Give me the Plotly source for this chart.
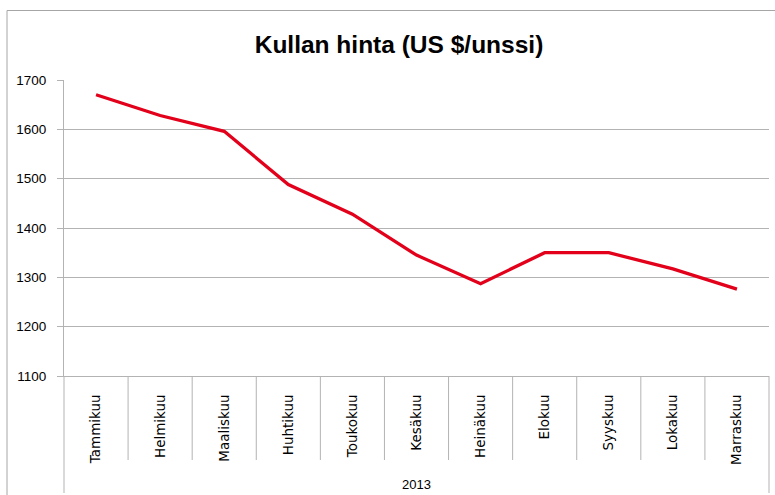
import plotly.graph_objects as go

months = ["Tammikuu", "Helmikuu", "Maaliskuu", "Huhtikuu", "Toukokuu", "Kesäkuu",
          "Heinäkuu", "Elokuu", "Syyskuu", "Lokakuu", "Marraskuu"]
prices = [1670, 1628, 1596, 1488, 1428, 1345, 1287, 1350, 1350, 1317, 1276]
year_label = "2013"
title_text = "Kullan hinta (US $/unssi)"

W, H = 775, 495
L, R, T, B = 64, 6, 80, 119
pw, ph = W - L - R, H - T - B

def px_x(px):
    return (px - L) / pw

def px_y(py):
    return (H - B - py) / ph

grid = "#b3b3b3"

fig = go.Figure()
fig.add_trace(go.Scatter(
    x=months, y=prices, mode="lines",
    line=dict(color="#E2001A", width=3.3),
    hoverinfo="x+y", showlegend=False,
))

shapes = []
# category separators below the axis
for i in range(len(months) - 1):
    shapes.append(dict(type="line", xref="x", yref="paper",
                       x0=i + 0.5, x1=i + 0.5, y0=0, y1=px_y(460),
                       line=dict(color=grid, width=1)))
# outer separators extending to the bottom
for xp in (0, 1):
    shapes.append(dict(type="line", xref="paper", yref="paper",
                       x0=xp, x1=xp, y0=0, y1=px_y(493),
                       line=dict(color=grid, width=1)))
# chart area border (left and top)
shapes.append(dict(type="line", xref="paper", yref="paper",
                   x0=px_x(7), x1=px_x(7), y0=px_y(10.5), y1=px_y(500),
                   line=dict(color="#a6a6a6", width=1)))
shapes.append(dict(type="line", xref="paper", yref="paper",
                   x0=px_x(7), x1=px_x(780), y0=px_y(10.5), y1=px_y(10.5),
                   line=dict(color="#a6a6a6", width=1)))

fig.update_layout(
    width=W, height=H,
    margin=dict(l=L, r=R, t=T, b=B, pad=0),
    paper_bgcolor="white", plot_bgcolor="white",
    title=dict(text=title_text, x=399 / W, xanchor="center",
               y=1 - 44 / H, yanchor="middle", xref="container", yref="container",
               font=dict(family="Liberation Sans, Arial, sans-serif", size=24.5,
                         color="black", weight="bold")),
    xaxis=dict(type="category", range=[-0.5, len(months) - 0.5],
               showgrid=False, zeroline=False,
               showline=True, linecolor=grid, linewidth=1,
               ticks="", tickangle=-90, ticklabelstandoff=12,
               tickfont=dict(family="DejaVu Sans, sans-serif", size=13.5, color="black")),
    yaxis=dict(range=[1100, 1700], dtick=100, tick0=1100,
               showgrid=True, gridcolor=grid, gridwidth=1, zeroline=False,
               showline=True, linecolor=grid, linewidth=1,
               ticks="outside", ticklen=6, tickcolor=grid,
               ticklabelstandoff=8,
               tickfont=dict(family="Liberation Sans, Arial, sans-serif", size=13.5, color="black")),
    shapes=shapes,
    annotations=[dict(text=year_label, xref="paper", yref="paper",
                      x=0.5, y=px_y(484), xanchor="center", yanchor="middle",
                      showarrow=False,
                      font=dict(family="Liberation Sans, Arial, sans-serif", size=13, color="black"))],
)

fig.write_html("out.html", config={"displayModeBar": False},
               post_script="document.body.style.margin='0';document.body.style.overflow='hidden';")
